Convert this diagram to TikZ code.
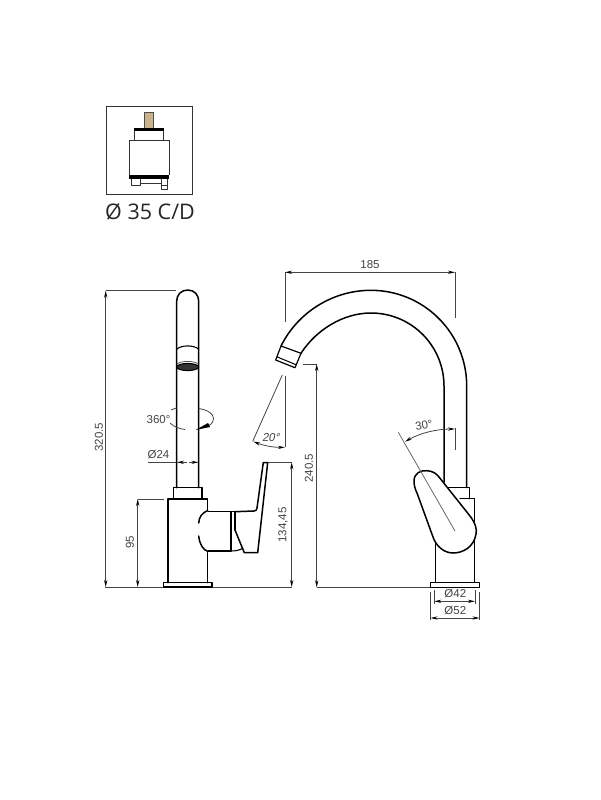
\documentclass[tikz,border=0pt]{standalone}
\usepackage{fontspec}
\setmainfont{Liberation Sans}
\newfontfamily\capfont{Open Sans}
\usetikzlibrary{arrows.meta}
\definecolor{dimgray}{HTML}{444444}
\definecolor{stemtan}{HTML}{C9B48E}
\tikzset{
  outline/.style={draw=black,line width=1.5pt,line join=round,line cap=round},
  thinbox/.style={draw=black!80,line width=1pt,line join=miter},
  dimline/.style={draw=dimgray,line width=0.8pt},
  dimboth/.style={dimline,{Stealth[length=7pt,width=3.2pt,black]}-{Stealth[length=7pt,width=3.2pt,black]}},
  dimend/.style={dimline,-{Stealth[length=7pt,width=3.2pt,black]}},
  dimtext/.style={text=dimgray,font=\fontsize{11.5}{13}\selectfont,inner sep=0pt},
  angtext/.style={dimtext,xslant=0.2}
}
\begin{document}
\begin{tikzpicture}[x=1pt,y=-1pt]
\useasboundingbox[fill=white] (0,0) rectangle (600,800);

% ---- cartridge ----
\draw[thinbox] (106,106.7) rectangle (192.7,194);
\draw[thinbox,fill=stemtan,draw=black!70] (144.3,112.3) rectangle (153.7,128.3);
\fill[black] (134,128.3) rectangle (164.3,131.2);
\draw[thinbox] (134.5,131) -- (134.5,140.7) (163.8,131) -- (163.8,140.7);
\draw[thinbox] (129,175) -- (129,140.7) -- (169,140.7) -- (169,175);
\fill[black] (129,175) rectangle (169,179.2);
\draw[thinbox] (131,179) -- (131,185.3) -- (140.7,185.3) -- (140.7,179);
\draw[thinbox,line width=0.6pt] (140.7,183.4) -- (161,183.4);
\draw[thinbox] (161,179) -- (161,189.3) -- (167,189.3) -- (167,179);
\draw[thinbox,line width=0.6pt] (161,185.3) -- (167,185.3);
\node[inner sep=0pt,text=black!85,font=\capfont\fontsize{21.5}{25}\selectfont] (caplabel) at (150,212) {Ø 35 C/D};

% ---- left view: dimensions ----
\draw[dimline] (105.7,290.7) -- (175.7,290.7);
\draw[dimline] (105,587) -- (291.7,587);
\draw[dimboth] (105.7,290.7) -- (105.7,587);
\node[dimtext,rotate=90] (d320) at (99,437) {320.5};
\draw[dimline] (137.7,499) -- (164,499);
\draw[dimboth] (137.7,499) -- (137.7,587);
\node[dimtext,rotate=90] (d95) at (130,542) {95};
\draw[dimline] (267,462.3) -- (291.7,462.3);
\draw[dimboth] (291.7,462.3) -- (291.7,587);
\node[dimtext,rotate=90] (d134) at (283,525) {134,45};
\draw[dimline] (148.3,462.3) -- (176.7,462.3);
\draw[dimend] (187,462.3) -- (176.9,462.3);
\draw[dimend] (189,462.3) -- (198.5,462.3);
\node[dimtext] (d24) at (158.5,454.5) {Ø24};

% ---- left view: tube ----
\draw[outline] (176.7,487.7) -- (176.7,301) .. controls (176.7,295) and (181,290) .. (187.7,290) .. controls (194.4,290) and (198.7,295) .. (198.7,301) -- (198.7,487.7);
\draw[outline,line width=1.1pt] (176.7,349.3) .. controls (181,344.8) and (194.4,344.8) .. (198.7,349.3);
\draw[line width=0.7pt,black!70] (177,364) .. controls (181,360.5) and (194,360.5) .. (198.5,364);
\draw[fill=black!80,line width=1pt] (187.7,367) ellipse [x radius=11,y radius=3.6];

% 360 rotation mark
\node[dimtext] (d360) at (158.5,419.5) {360°};
\draw[dimline] (171,410) .. controls (174,408.5) and (176,408) .. (177,408);
\draw[dimline] (170,423) .. controls (174,427) and (180,429) .. (185,429.5);
\draw[dimline] (199,408.5) .. controls (208,410) and (213.5,414) .. (213.5,418.5) .. controls (213.5,423) and (209,427) .. (205,426);
\fill[black] (195.5,430) -- (208,423) -- (210,427) -- cycle;

% ---- left view: body ----
\draw[outline] (173.3,499) -- (173.3,487.7) -- (202,487.7) -- (202,499);
\draw[outline] (207.7,510.5) -- (207.7,499) -- (168,499) -- (168,582.7);
\draw[outline] (207.7,552.7) -- (207.7,582.7);
\draw[outline] (163.3,582.7) rectangle (212,587);
\draw[outline] (207.7,510.5) .. controls (202,513) and (199,517) .. (198.7,523);
\draw[outline] (198.7,536) .. controls (199.5,544) and (203,550) .. (208,551.5);
\draw[outline] (208,511.7) -- (235,511.7) -- (235,530);
\draw[outline] (208,551) -- (231,551) -- (231,511.7);
\draw[outline] (235,511.7) -- (254,511) .. controls (256,511) and (256.8,510) .. (257,508) -- (263.3,462.5) -- (267.7,462.5) -- (257.7,552.7) -- (244.3,552.7) -- (235,530);
\draw[outline,line width=1.1pt] (231,551) .. controls (236,551) and (240,550) .. (242.7,548.3);

% ---- middle: 20 degree ----
\draw[dimline] (285,375.7) -- (285,447.3);
\draw[dimline] (282.3,375) -- (252.7,441.3);
\draw[dimboth] (253.3,441.5) .. controls (263,445.5) and (274,447.5) .. (285,447.3);
\node[angtext] (d20) at (271.5,438) {20°};

% ---- right view: dimension lines ----
\draw[dimline] (285,272.3) -- (285,322.3);
\draw[dimline] (455,272.3) -- (455,318.3);
\draw[dimboth] (285,272.3) -- (455,272.3);
\node[dimtext] (d185) at (370,265) {185};
\draw[dimline] (302.7,364) -- (317,364);
\draw[dimboth] (316.7,364) -- (316.7,587.3);
\node[dimtext,rotate=90] (d240) at (309,468) {240.5};
\draw[dimline] (316.7,587.3) -- (431,587.3);

% ---- right view: spout ----
\draw[outline] (466.7,487.7) -- (466.7,386) plot[domain=0:90,samples=40] ({371+95.7*cos(\x)},{386-95.7*sin(\x)}) .. controls (333,290.3) and (298,312) .. (281,346);
\draw[outline] (444,482) -- (444,386) plot[domain=0:90,samples=40] ({371+73*cos(\x)},{386-73*sin(\x)}) .. controls (343,313) and (316,330) .. (301,353.3);
\draw[outline,line width=1.2pt] (281,346) -- (301,353.3) -- (295,367.7) -- (275.7,360) -- cycle;
\draw[outline,line width=1pt] (277.3,357) -- (296,364.7);

% ---- right view: body ----
\draw[outline] (448.3,490) -- (448.3,487.7) -- (469.3,487.7) -- (469.3,498.7);
\draw[outline] (460,498.7) -- (474.3,498.7) -- (474.3,582);
\draw[outline] (435.7,530) -- (435.7,582);
\draw[outline] (430.7,582.3) rectangle (479.3,587.3);
% lever
\draw[outline,fill=white] (414,481) .. controls (414,473) and (421,470) .. (427,470.7)
  .. controls (432,471) and (436,473) .. (439,477) -- (470,516)
  .. controls (476,524) and (477,530) .. (476,534)
  .. controls (474,547) and (463,553) .. (453,553)
  .. controls (444,553) and (436,546) .. (433,537) -- (417,493)
  .. controls (415,489) and (414,485) .. (414,481) -- cycle;

% 30 degree
\draw[dimline,draw=dimgray!80] (398.3,432.3) -- (455,531);
\draw[dimline] (455,428.3) -- (455,450);
\draw[dimboth] (405,441.7) .. controls (420,433) and (437,429) .. (455,429);
\node[dimtext,rotate=10] (d30) at (424,425.5) {30°};

% base dims
\draw[dimline] (434.3,590) -- (434.3,603.5) (475,590) -- (475,603.5);
\draw[dimboth] (434.3,601.3) -- (475,601.3);
\node[dimtext] (d42) at (455.3,594) {Ø42};
\draw[dimline] (430.5,592) -- (430.5,620) (479.5,592) -- (479.5,620);
\draw[dimboth] (430.5,618) -- (479.5,618);
\node[dimtext] (d52) at (455.3,610.3) {Ø52};
\end{tikzpicture}
\end{document}
